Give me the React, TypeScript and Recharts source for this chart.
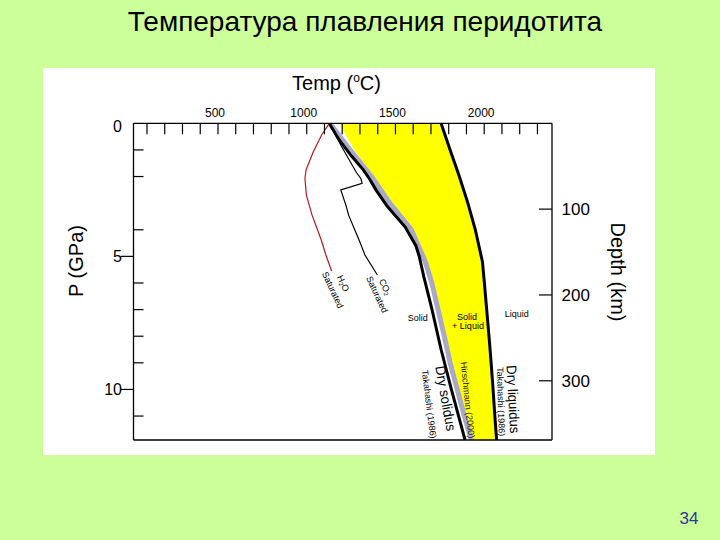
import React from 'react';
import { ComposedChart, Line, Area, XAxis, YAxis } from 'recharts';

// Dry solidus, Takahashi (1986): pressure (GPa) vs temperature (°C)
const drySolidus = [
  { P: 0, T: 1127 }, { P: 0.6, T: 1180 }, { P: 1.25, T: 1255 }, { P: 1.76, T: 1320 },
  { P: 2.1, T: 1355 }, { P: 2.5, T: 1390 }, { P: 3.13, T: 1455 }, { P: 3.9, T: 1555 },
  { P: 4.6, T: 1615 }, { P: 5.0, T: 1634 }, { P: 5.77, T: 1660 }, { P: 7.0, T: 1706 },
  { P: 8.5, T: 1757 }, { P: 10, T: 1815 }, { P: 11.9, T: 1892 },
];

// Hirschmann (2000) solidus (grey band)
const hirschmann = [
  { P: 0, T: 1130 }, { P: 1, T: 1245 }, { P: 2, T: 1365 }, { P: 3, T: 1468 },
  { P: 4, T: 1590 }, { P: 5.2, T: 1668 }, { P: 6, T: 1705 }, { P: 7, T: 1740 },
  { P: 8, T: 1775 }, { P: 9, T: 1808 }, { P: 10, T: 1848 }, { P: 11, T: 1888 },
  { P: 11.9, T: 1928 },
];

// Dry liquidus, Takahashi (1986)
const dryLiquidus = [
  { P: 0, T: 1757 }, { P: 1, T: 1808 }, { P: 2, T: 1860 }, { P: 3, T: 1908 },
  { P: 4, T: 1950 }, { P: 5.2, T: 1990 }, { P: 6, T: 2001 }, { P: 7, T: 2014 },
  { P: 8, T: 2027 }, { P: 9, T: 2039 }, { P: 10, T: 2050 }, { P: 11, T: 2060 },
  { P: 11.9, T: 2070 },
];

// Left edge of the yellow "Solid + Liquid" field (same pressures as the liquidus)
const meltFieldLeft = [1184, 1268, 1378, 1485, 1600, 1680, 1718, 1752, 1782, 1815, 1855, 1893, 1930];

// H2O-saturated solidus
const h2oSaturated = [
  { P: 0, T: 1127 }, { P: 0.44, T: 1084 }, { P: 1.07, T: 1037 }, { P: 1.76, T: 996 },
  { P: 2.07, T: 990 }, { P: 2.7, T: 998 }, { P: 3.45, T: 1030 }, { P: 4.35, T: 1080 },
  { P: 4.95, T: 1108 }, { P: 5.55, T: 1140 },
];

// CO2-saturated solidus
const co2Saturated = [
  { P: 0, T: 1127 }, { P: 0.85, T: 1195 }, { P: 1.85, T: 1280 }, { P: 2.07, T: 1305 },
  { P: 2.26, T: 1312 }, { P: 2.5, T: 1192 }, { P: 3.1, T: 1222 }, { P: 3.45, T: 1236 },
  { P: 4.4, T: 1296 }, { P: 4.95, T: 1328 }, { P: 5.7, T: 1398 },
];

// Extent of the depth scale (km) shown on the right-hand axis
const depthRange = [{ depth: 0 }, { depth: 369 }];

const tempTicks = [100, 200, 300, 400, 500, 600, 700, 800, 900, 1000, 1100, 1200, 1300, 1400, 1500, 1600, 1700, 1800, 1900, 2000, 2100, 2200, 2300];
const tempLabels = [500, 1000, 1500, 2000];
const pressureTicks = [0, 1, 2, 4, 5, 6, 7, 8, 9, 10, 11];
const pressureLabels = [0, 5, 10];
const depthTicks = [100, 200, 300];

const tempDomain = [24, 2382];
const pressureDomain = [0, 11.9];
const depthDomain = [0, 369];

const meltBand = dryLiquidus.map((d, i) => ({ P: d.P, range: [meltFieldLeft[i], d.T] }));

const FONT = '"Liberation Sans", Arial, Helvetica, sans-serif';

const TopTick = (props: any) => {
  const { x, y, payload } = props;
  const v = payload.value;
  return (
    <g>
      <line x1={x} x2={x} y1={y} y2={y + 11} stroke="#000" strokeWidth={1.2} />
      {tempLabels.includes(v) && (
        <text x={x - 3} y={y - 6} textAnchor="middle" fontSize={12} fontFamily={FONT} fill="#000">{v}</text>
      )}
    </g>
  );
};

const LeftTick = (props: any) => {
  const { x, y, payload } = props;
  const v = payload.value;
  const major = pressureLabels.includes(v);
  return (
    <g>
      {v !== 0 && (major
        ? <line x1={x - 13} x2={x} y1={y} y2={y} stroke="#000" strokeWidth={1.2} />
        : <line x1={x} x2={x + 10} y1={y} y2={y} stroke="#000" strokeWidth={1.2} />)}
      {major && (
        <text x={x - 11.5} y={y + (v === 0 ? 9 : 6)} textAnchor="end" fontSize={16} fontFamily={FONT} fill="#000">{v}</text>
      )}
    </g>
  );
};

const RightTick = (props: any) => {
  const { x, y, payload } = props;
  return (
    <g>
      <line x1={x - 13} x2={x} y1={y} y2={y} stroke="#000" strokeWidth={1.2} />
      <text x={x + 9.5} y={y + 6} textAnchor="start" fontSize={17} fontFamily={FONT} fill="#000">{payload.value}</text>
    </g>
  );
};

const rot = (deg: number, x: number, y: number) => `rotate(${deg} ${x} ${y})`;

export default function App() {
  return (
    <div style={{ position: 'absolute', left: 0, top: 0, width: 720, height: 540, background: '#CCFF99', overflow: 'hidden' }}>
      <div style={{ position: 'absolute', left: 43, top: 68, width: 612, height: 387, background: '#FFFFFF' }} />
      <div style={{ position: 'absolute', left: 0, top: 0 }}>
        <ComposedChart
          width={720}
          height={540}
          layout="vertical"
          margin={{ top: 23.3, right: 108, bottom: 80, left: 73.5 }}
        >
          <XAxis
            xAxisId="t"
            type="number"
            orientation="top"
            domain={tempDomain}
            allowDataOverflow
            ticks={tempTicks}
            interval={0}
            tickSize={0}
            tickMargin={0}
            tickLine={false}
            tick={<TopTick />}
            height={100}
            axisLine={{ stroke: '#000', strokeWidth: 1.3 }}
          />
          <XAxis
            xAxisId="b"
            type="number"
            orientation="bottom"
            domain={tempDomain}
            allowDataOverflow
            tick={false}
            tickLine={false}
            height={20}
            axisLine={{ stroke: '#000', strokeWidth: 1.3 }}
          />
          <YAxis
            yAxisId="p"
            type="number"
            dataKey="P"
            orientation="left"
            domain={pressureDomain}
            allowDataOverflow
            ticks={pressureTicks}
            interval={0}
            tickSize={0}
            tickMargin={0}
            tickLine={false}
            tick={<LeftTick />}
            width={60}
            axisLine={{ stroke: '#000', strokeWidth: 1.3 }}
          />
          <YAxis
            yAxisId="d"
            type="number"
            dataKey="depth"
            orientation="right"
            domain={depthDomain}
            allowDataOverflow
            ticks={depthTicks}
            interval={0}
            tickSize={0}
            tickMargin={0}
            tickLine={false}
            tick={<RightTick />}
            width={60}
            axisLine={{ stroke: '#000', strokeWidth: 1.3 }}
          />
          <Area
            xAxisId="t"
            yAxisId="p"
            data={meltBand}
            dataKey="range"
            type="linear"
            fill="#FFFF00"
            fillOpacity={1}
            stroke="none"
            isAnimationActive={false}
          />
          <Line xAxisId="t" yAxisId="d" data={depthRange} dataKey="T" stroke="none" dot={false} legendType="none" isAnimationActive={false} />
          <Line xAxisId="t" yAxisId="p" data={hirschmann} dataKey="T" type="linear" stroke="#A9A9C6" strokeWidth={5} dot={false} isAnimationActive={false} />
          <Line xAxisId="t" yAxisId="p" data={drySolidus} dataKey="T" type="linear" stroke="#000" strokeWidth={3} dot={false} isAnimationActive={false} />
          <Line xAxisId="t" yAxisId="p" data={dryLiquidus} dataKey="T" type="linear" stroke="#000" strokeWidth={3} dot={false} isAnimationActive={false} />
          <Line xAxisId="t" yAxisId="p" data={h2oSaturated} dataKey="T" type="linear" stroke="#B81A20" strokeWidth={1.2} dot={false} isAnimationActive={false} />
          <Line xAxisId="t" yAxisId="p" data={co2Saturated} dataKey="T" type="linear" stroke="#000" strokeWidth={1.2} dot={false} isAnimationActive={false} />
        </ComposedChart>
      </div>
      <svg width={720} height={540} style={{ position: 'absolute', left: 0, top: 0, pointerEvents: 'none' }} fontFamily={FONT}>
        <text x={365} y={31} textAnchor="middle" fontSize={28} fill="#000">Температура плавления перидотита</text>
        <text x={689} y={524} textAnchor="middle" fontSize={17} fill="#333399">34</text>

        <text x={336.5} y={90} textAnchor="middle" fontSize={20} fill="#000">
          Temp (<tspan fontSize={12} dy={-8}>o</tspan><tspan dy={8}>C)</tspan>
        </text>
        <text x={76} y={261} textAnchor="middle" dominantBaseline="central" fontSize={20} fill="#000" transform={rot(-90, 76, 261)}>P (GPa)</text>
        <text x={618} y={272} textAnchor="middle" dominantBaseline="central" fontSize={20} fill="#000" transform={rot(90, 618, 272)}>Depth (km)</text>

        <text x={417.7} y={317.7} textAnchor="middle" dominantBaseline="central" fontSize={9} fill="#000">Solid</text>
        <text x={467} y={316.5} textAnchor="middle" dominantBaseline="central" fontSize={9} fill="#000">Solid</text>
        <text x={468} y={326} textAnchor="middle" dominantBaseline="central" fontSize={9} fill="#000">+ Liquid</text>
        <text x={516.7} y={313.7} textAnchor="middle" dominantBaseline="central" fontSize={9} fill="#000">Liquid</text>

        <text x={343} y={283.5} textAnchor="middle" dominantBaseline="central" fontSize={9} fill="#000" transform={rot(65, 343, 283.5)}>
          H<tspan fontSize={6} dy={2}>2</tspan><tspan dy={-2}>O</tspan>
        </text>
        <text x={332.7} y={290} textAnchor="middle" dominantBaseline="central" fontSize={9} fill="#000" transform={rot(65, 332.7, 290)}>Saturated</text>
        <text x={385} y={287} textAnchor="middle" dominantBaseline="central" fontSize={9} fill="#000" transform={rot(65, 385, 287)}>
          CO<tspan fontSize={6} dy={2}>2</tspan>
        </text>
        <text x={377} y={294.5} textAnchor="middle" dominantBaseline="central" fontSize={9} fill="#000" transform={rot(65, 377, 294.5)}>Saturated</text>

        <text x={445.8} y={398.3} textAnchor="middle" dominantBaseline="central" fontSize={14} textLength={66} lengthAdjust="spacingAndGlyphs" fill="#000" transform={rot(80, 445.8, 398.3)}>Dry solidus</text>
        <text x={429} y={404.2} textAnchor="middle" dominantBaseline="central" fontSize={9} fill="#000" transform={rot(83, 429, 404.2)}>Takahashi (1986)</text>
        <text x={467.5} y={400} textAnchor="middle" dominantBaseline="central" fontSize={9} fill="#222" transform={rot(84, 467.5, 400)}>Hirschmann (2000)</text>
        <text x={513.3} y={399.2} textAnchor="middle" dominantBaseline="central" fontSize={14} textLength={68} lengthAdjust="spacingAndGlyphs" fill="#000" transform={rot(87, 513.3, 399.2)}>Dry liquidus</text>
        <text x={500.8} y={401.7} textAnchor="middle" dominantBaseline="central" fontSize={9} fill="#000" transform={rot(88.5, 500.8, 401.7)}>Takahashi (1986)</text>
      </svg>
    </div>
  );
}
